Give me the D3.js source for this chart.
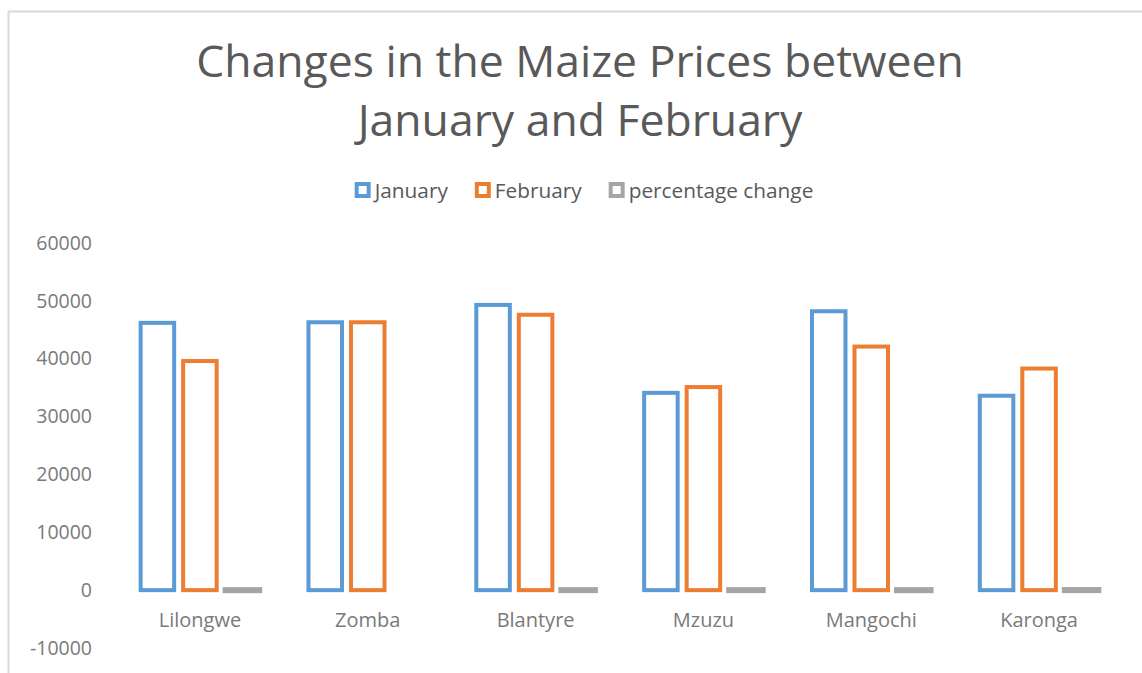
<!DOCTYPE html>
<html>
<head>
<meta charset="utf-8">
<title>Maize prices</title>
<script src="https://d3js.org/d3.v7.min.js"></script>
<style>
    body {
        margin: 0;
        background: #fff;
    }
    svg text {
        font-family: "Open Sans", sans-serif;
    }
</style>
</head>
<body>

<div id="chart"></div>

<script>
// Values
const districts = ["Lilongwe", "Zomba", "Blantyre", "Mzuzu", "Mangochi", "Karonga"];
const january = [46200, 46300, 49300, 34100, 48200, 33600];
const february = [39600, 46300, 47600, 35100, 42100, 38300];
const percentageChange = [-14.3, 0, -3.4, 2.9, -12.7, 14.0];
const seriesNames = ["January", "February", "percentage change"];
const yTicks = [-10000, 0, 10000, 20000, 30000, 40000, 50000, 60000];

const colors = ["#5b9bd5", "#ed7d31", "#a5a5a5"];
const width = 1142, height = 673;

const series = [january, february, percentageChange];

const svg = d3.select("#chart")
    .append("svg")
    .attr("width", width)
    .attr("height", height);

// chart border
svg.append("rect")
    .attr("x", 8.5)
    .attr("y", 11.5)
    .attr("width", 1200)
    .attr("height", 700)
    .attr("fill", "#fff")
    .attr("stroke", "#d9d9d9")
    .attr("stroke-width", 2);

// title
const title = svg.append("text")
    .attr("x", 580)
    .attr("y", 77)
    .attr("text-anchor", "middle")
    .attr("fill", "#595959")
    .style("font-size", "44.5px");
title.append("tspan").attr("x", 580).text("Changes in the Maize Prices between");
title.append("tspan").attr("x", 580).attr("dy", 59).text("January and February");

// scales
const x0 = d3.scaleBand()
    .domain(districts)
    .range([116, 1123])
    .paddingInner(0.24)
    .paddingOuter(0.12);

const x1 = d3.scaleBand()
    .domain(d3.range(series.length))
    .range([0, x0.bandwidth()]);

const y = d3.scaleLinear()
    .domain([-10000, 60000])
    .range([648, 243]);

// y axis (labels only)
const yAxis = svg.append("g")
    .attr("transform", "translate(100,0)")
    .call(d3.axisLeft(y).tickValues(yTicks).tickFormat(d => String(d)).tickSize(0).tickPadding(8));
yAxis.select(".domain").remove();
yAxis.selectAll("text")
    .attr("fill", "#7a7a7a")
    .style("font-family", "'Open Sans', sans-serif")
    .style("font-size", "19.5px");

// x axis labels
const xAxis = svg.append("g")
    .attr("transform", `translate(0,${y(0)})`)
    .call(d3.axisBottom(x0).tickSize(0).tickPadding(23));
xAxis.select(".domain").remove();
xAxis.selectAll("text")
    .attr("fill", "#7a7a7a")
    .style("font-family", "'Open Sans', sans-serif")
    .style("font-size", "20px");

// bars
const strokeW = [4, 4, 6];
const inset = 4.5;
series.forEach((values, s) => {
    svg.append("g")
        .selectAll("rect")
        .data(values)
        .enter()
        .append("rect")
        .attr("x", (d, i) => x0(districts[i]) + x1(s) + inset)
        .attr("y", d => y(Math.max(0, d)))
        .attr("width", x1.bandwidth() - 2 * inset)
        .attr("height", d => Math.abs(y(d) - y(0)))
        .attr("fill", s == 2 ? colors[s] : "none")
        .attr("stroke", colors[s])
        .attr("stroke-width", strokeW[s]);
});

// legend
const legend = svg.append("g");
let lx = 0;
seriesNames.forEach((name, i) => {
    const item = legend.append("g").attr("transform", `translate(${lx},0)`);
    item.append("rect")
        .attr("x", 2)
        .attr("y", 184)
        .attr("width", 12)
        .attr("height", 12)
        .attr("fill", "#fff")
        .attr("stroke", colors[i])
        .attr("stroke-width", 4);
    const t = item.append("text")
        .attr("x", 20)
        .attr("y", 198)
        .attr("fill", "#595959")
        .style("font-size", "20.8px")
        .text(name);
    lx += 20 + t.node().getComputedTextLength() + 27;
});
lx -= 27;
legend.attr("transform", `translate(${584 - lx / 2},0)`);
</script>

</body>
</html>
